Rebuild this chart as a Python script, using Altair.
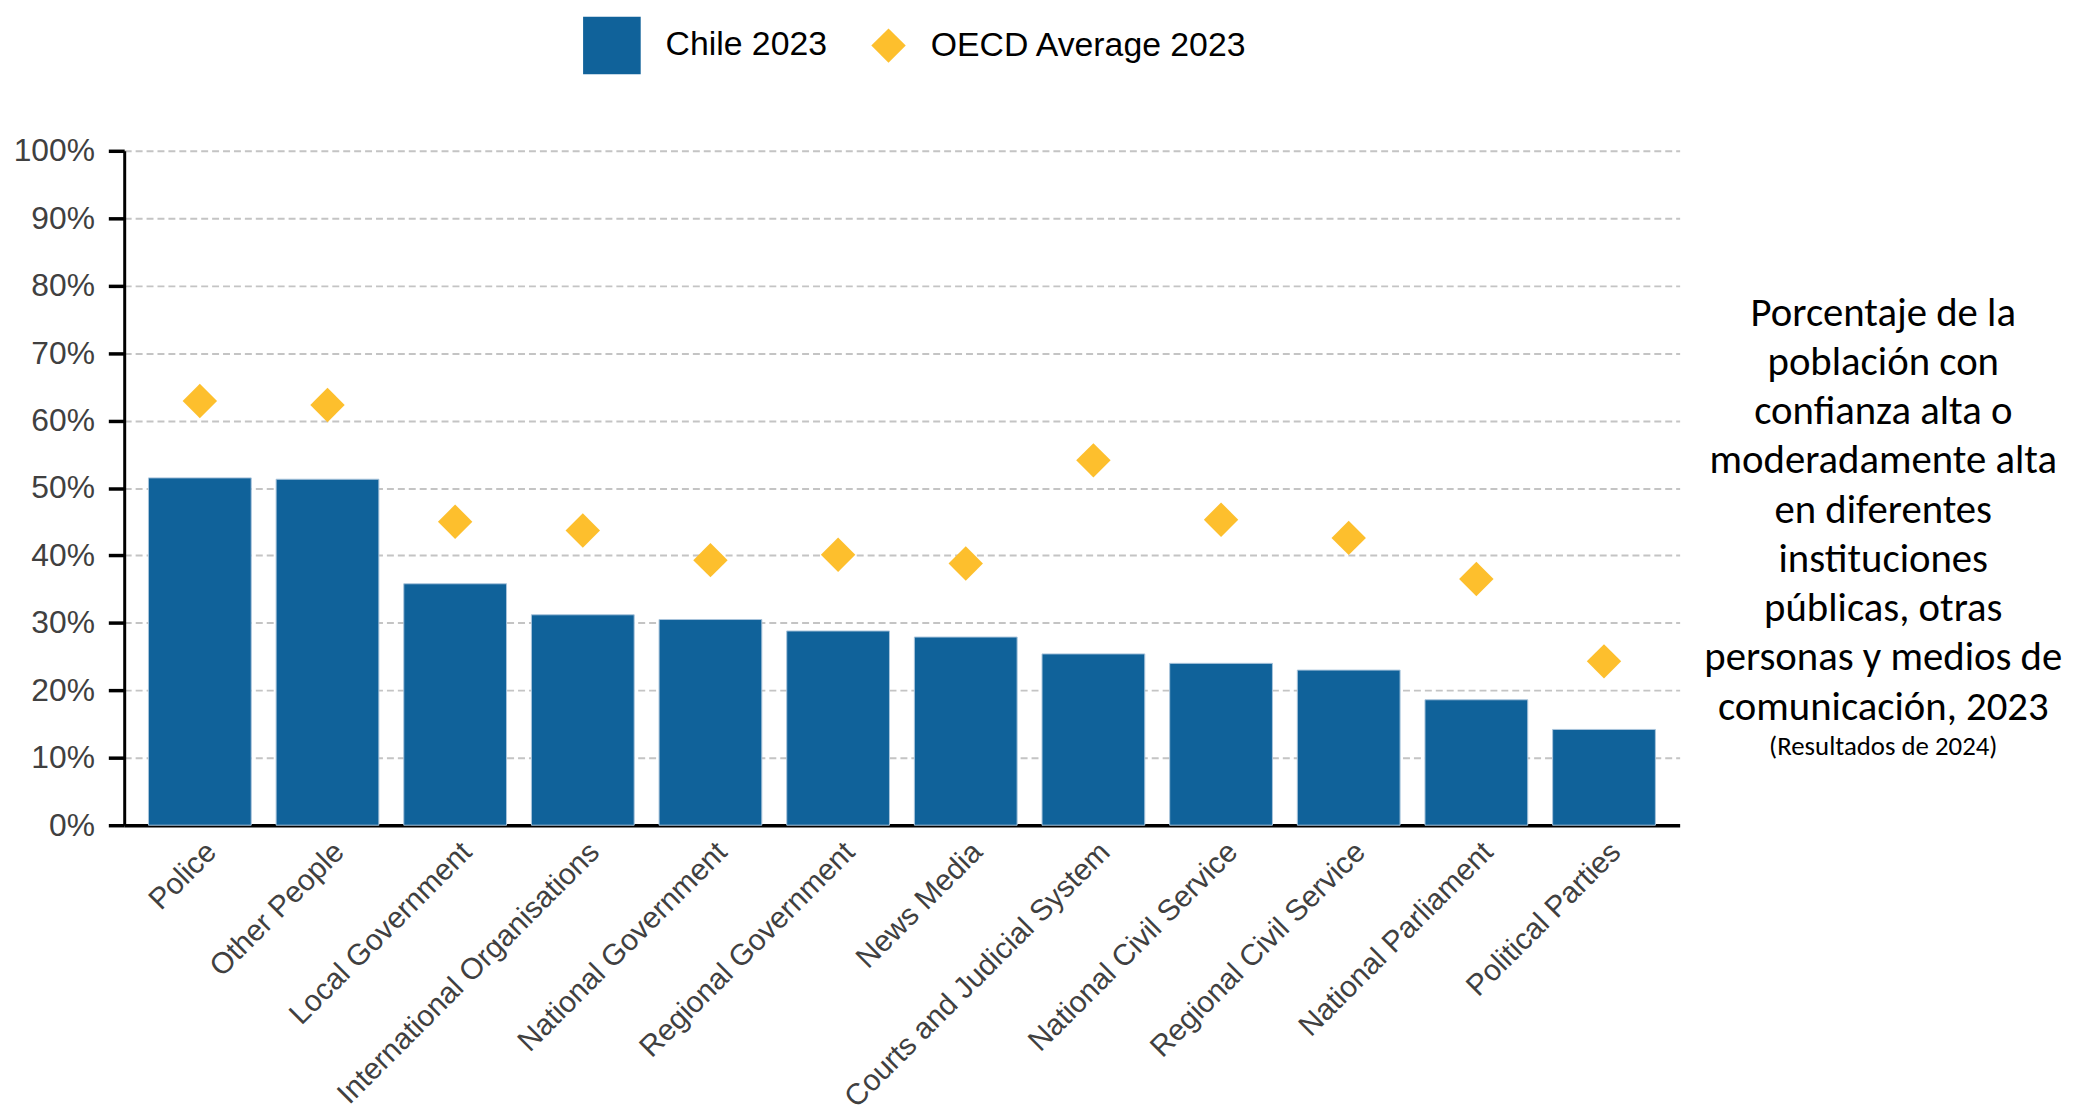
import altair as alt
import pandas as pd

categories = ["Police", "Other People", "Local Government", "International Organisations",
              "National Government", "Regional Government", "News Media",
              "Courts and Judicial System", "National Civil Service", "Regional Civil Service",
              "National Parliament", "Political Parties"]
chile_2023 = [51.5, 51.3, 35.8, 31.2, 30.5, 28.8, 27.9, 25.4, 24.0, 23.0, 18.6, 14.2]
oecd_2023 = [62.9, 62.3, 45.0, 43.7, 39.3, 40.1, 38.8, 54.1, 45.3, 42.6, 36.5, 24.3]
series_names = ["Chile 2023", "OECD Average 2023"]
y_ticks = [0, 10, 20, 30, 40, 50, 60, 70, 80, 90, 100]
note_lines = ["Porcentaje de la", "población con", "confianza alta o", "moderadamente alta",
              "en diferentes", "instituciones", "públicas, otras", "personas y medios de",
              "comunicación, 2023"]
note_sub = "(Resultados de 2024)"

rows = []
for c, v in zip(categories, chile_2023):
    rows.append({"category": c, "series": series_names[0], "value": v})
for c, v in zip(categories, oecd_2023):
    rows.append({"category": c, "series": series_names[1], "value": v})
df = pd.DataFrame(rows)

AX_FONT = "Liberation Sans, Arial"
BLUE = "#10629a"
GOLD = "#fdbf2d"

x = alt.X("category:N", sort=categories, title=None,
          scale=alt.Scale(paddingInner=0.195, paddingOuter=0.19),
          axis=alt.Axis(labelAngle=-45, labelAlign="right", labelBaseline="middle",
                        labelFont=AX_FONT, labelFontSize=30, labelColor="#404040",
                        labelPadding=22, labelOffset=12, ticks=False,
                        domainColor="#000000", domainWidth=3.5, grid=False,
                        labelLimit=600))
y = alt.Y("value:Q", title=None,
          scale=alt.Scale(domain=[0, 100], nice=False),
          axis=alt.Axis(values=y_ticks, labelExpr="datum.value + '%'",
                        labelFont=AX_FONT, labelFontSize=32, labelColor="#404040",
                        labelPadding=14, tickSize=16, tickWidth=3.5, tickColor="#000000",
                        domainColor="#000000", domainWidth=3,
                        grid=True, gridColor="#c4c4c4", gridDash=[7, 4], gridWidth=2))

color = alt.Color("series:N", title=None,
                  scale=alt.Scale(domain=series_names, range=[BLUE, GOLD]),
                  legend=alt.Legend(orient="none", legendX=462, legendY=-135,
                                    direction="horizontal", labelFont=AX_FONT,
                                    labelFontSize=34, labelColor="#000000",
                                    labelOffset=25, columnPadding=44, padding=0,
                                    symbolStrokeWidth=0, symbolOpacity=1,
                                    labelLimit=600))
shape = alt.Shape("series:N", title=None,
                  scale=alt.Scale(domain=series_names, range=["square", "diamond"]))
size = alt.Size("series:N", title=None,
                scale=alt.Scale(domain=series_names, range=[3364, 1200]))

bars = alt.Chart(df).transform_filter(
    alt.datum.series == series_names[0]
).mark_bar(stroke="#a9c5dc", strokeWidth=1).encode(x=x, y=y, color=color)

points = alt.Chart(df).transform_filter(
    alt.datum.series == series_names[1]
).mark_point(filled=True, opacity=1, strokeWidth=0).encode(
    x=x, y=y, color=color, shape=shape, size=size)

note = alt.Chart(pd.DataFrame({"k": [0]})).mark_text(
    text=note_lines, font="Carlito, Lato", fontSize=41, lineHeight=49.6,
    align="center", baseline="alphabetic", color="#000000"
).encode(x=alt.value(1771), y=alt.value(176))

note2 = alt.Chart(pd.DataFrame({"k": [0]})).mark_text(
    text=note_sub, font="Carlito, Lato", fontSize=27,
    align="center", baseline="alphabetic", color="#000000"
).encode(x=alt.value(1771), y=alt.value(608))

chart = alt.layer(bars, points, note, note2).properties(
    width=1566, height=679, background="#ffffff",
    padding={"left": 5, "top": 5, "right": 5, "bottom": 0}
).configure_view(stroke=None)

chart.save("out.html", embed_options={"renderer": "svg", "actions": False})
